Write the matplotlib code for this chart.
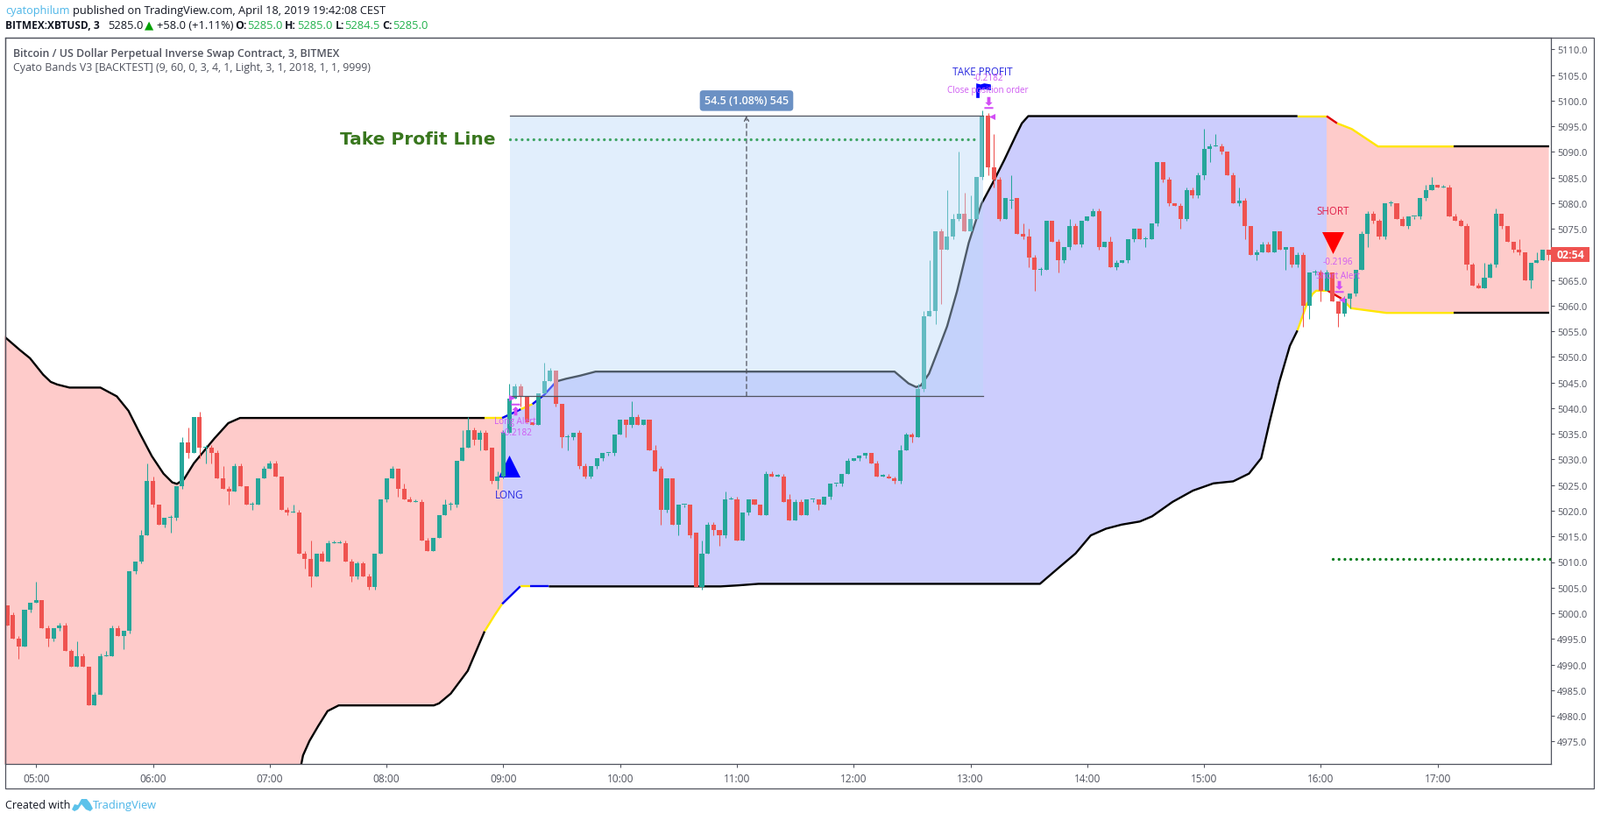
import numpy as np
import matplotlib
matplotlib.use("Agg")
import matplotlib.pyplot as plt
from matplotlib.patches import Rectangle, Polygon
from matplotlib.path import Path
from matplotlib.ticker import FixedLocator

FONT = "Open Sans"
W, H = 1826, 937

# ---- candles: bar index -5 .. 259 (20 bars per hour, index 0 = 05:00)
FIRST_BAR = -5
OPEN = [
 5002,5000,4995.5,4994,5001,5002.5,5003,4997.5,4995.5,4997.5,
 4998,4993,4990,4992,4990,4982.5,4984.5,4992,4992,4997.5,
 4996,4997,5008.5,5010.5,5015.5,5026,5021.5,5017.5,5019,5019,
 5025,5033.5,5031.5,5038.5,5032.5,5032.5,5031.5,5026.5,5024.5,5024,
 5029,5025,5021.5,5021.5,5026.5,5028.5,5029.5,5027,5020.5,5020,
 5020,5012,5011,5007.5,5012,5010.5,5014,5014,5014,5010.5,
 5007.5,5010,5007.5,5005.5,5012,5022.5,5026.5,5028.5,5024.5,5022.5,
 5022,5022,5014.5,5012.5,5015,5019.5,5021.5,5021.5,5030,5032.5,
 5036,5034,5035.5,5032.5,5026,5027,5035.5,5042,5044.5,5042.5,
 5037.5,5037,5043,5045.5,5047.5,5041,5034.5,5034.5,5035.5,5029,
 5027,5029,5030.5,5031.5,5031.5,5035,5038,5037,5038.5,5037,
 5038,5032,5028.5,5020.5,5026.5,5017.5,5021.5,5021.5,5016,5005.5,
 5012,5017.5,5016.5,5015.5,5022.5,5022.5,5014.5,5020,5022.5,5021.5,
 5019.5,5027.5,5027,5027,5022.5,5018.5,5022,5019.5,5022.5,5022.5,
 5021.5,5023,5025.5,5025.5,5027.5,5030,5030.5,5031,5031.5,5029.5,
 5027,5027,5026.5,5026,5032,5035,5034.5,5044,5058,5059,
 5074.5,5071,5073.5,5077,5078,5074.5,5077,5085,5097,5087,
 5084.5,5077,5080.5,5081,5074,5073.5,5069.5,5067,5067,5076.5,
 5072.5,5069,5071.5,5075.5,5072,5076.5,5077.5,5078.5,5071.5,5072.5,
 5067.5,5068.5,5069,5073,5075,5073,5073,5076,5088,5084.5,
 5080,5079.5,5077,5082.5,5081.5,5085.5,5090.5,5091,5091,5090,
 5085.5,5080,5080.5,5075.5,5070,5070.5,5072,5070.5,5074.5,5071,
 5071.5,5068,5070,5060,5066.5,5066.5,5063,5066.5,5061,5058.5,
 5061.5,5062.5,5067,5074,5078,5076.5,5073.5,5080,5080,5077,
 5075.5,5077.5,5077.5,5081,5082.5,5083.5,5083,5083,5077.5,5076.5,
 5075.5,5068,5064,5063.5,5065.5,5068,5078,5075.5,5072.5,5071,
 5070.5,5065,5068.5,5069,5071]
CLOSE = [
 4998,4995.5,4994,5001,5002.5,5003,4997.5,4995.5,4997.5,4998,
 4993,4990,4992,4990,4982.5,4984.5,4992,4992,4997.5,4996,
 4997,5008.5,5010.5,5015.5,5026,5021.5,5017.5,5019,5019,5025,
 5033.5,5031.5,5038.5,5032.5,5032.5,5031.5,5026.5,5024.5,5024,5029,
 5025,5021.5,5021.5,5026.5,5028.5,5029.5,5027,5020.5,5020,5020,
 5012,5011,5007.5,5012,5010.5,5014,5014,5014,5010.5,5007.5,
 5010,5007.5,5005.5,5012,5022.5,5026.5,5028.5,5024.5,5022.5,5022,
 5022,5014.5,5012.5,5015,5019.5,5021.5,5021.5,5030,5032.5,5036,
 5034,5035.5,5032,5026,5027,5035.5,5042,5044.5,5042.5,5037.5,
 5037,5043,5045.5,5047.5,5041,5034.5,5034.5,5035.5,5029,5027,
 5029,5030.5,5031.5,5031.5,5035,5038,5037,5038.5,5037,5038,
 5032,5028,5020.5,5026.5,5017.5,5021.5,5021.5,5015.5,5005.5,5012,
 5017.5,5016.5,5015.5,5022.5,5022.5,5014.5,5020,5022.5,5021.5,5019.5,
 5027.5,5027,5027,5022,5018.5,5022,5019.5,5022.5,5022.5,5021.5,
 5023,5025.5,5025.5,5027.5,5030,5030.5,5031,5031.5,5029.5,5027,
 5027,5026.5,5026,5032,5035,5034.5,5044,5058,5059,5074.5,
 5071,5073.5,5077,5078,5074.5,5077,5085,5097,5087,5084.5,
 5077,5081,5080.5,5074,5073.5,5069.5,5067,5067,5076.5,5072.5,
 5069,5071.5,5075.5,5072,5076.5,5077.5,5078.5,5071.5,5072.5,5067.5,
 5068.5,5069,5073,5075,5073,5073,5076,5088,5084.5,5080,
 5079.5,5077,5082.5,5081.5,5085.5,5090.5,5091,5091,5090,5085.5,
 5080,5080.5,5075.5,5070,5070.5,5072,5070.5,5074.5,5071,5071.5,
 5068,5070,5060,5066.5,5066.5,5063,5066.5,5061,5058.5,5061.5,
 5062.5,5067,5074,5078,5076.5,5073.5,5080,5080,5077,5075.5,
 5077.5,5077.5,5081,5082.5,5083.5,5083,5083,5077.5,5076.5,5075.5,
 5068,5064,5063.5,5065.5,5068,5078,5075.5,5072.5,5071,5070.5,
 5065,5068.5,5069,5071,5070]
HIGH = [
 5002,5000.5,4996,5001,5002.5,5006.5,5003,4998,4997.5,4998.5,
 4998.5,4993.5,4995,4992.5,4990,4985,4992.5,4993,4998,4998,
 4997,5008.5,5010.5,5016.5,5029.5,5027,5021.5,5019,5019.5,5025,
 5034.5,5036.5,5038.5,5039.5,5033,5033,5032,5029,5025,5029.5,
 5029.5,5025,5022,5026.5,5029,5030,5030,5027,5021,5021.5,
 5020.5,5012.5,5014.5,5012,5012.5,5014.5,5014.5,5014.5,5014.5,5011,
 5010.5,5010.5,5008,5012,5022.5,5026.5,5029,5028.5,5025.5,5023,
 5022.5,5022.5,5015,5015,5019.5,5022.5,5022,5030,5036,5038.5,
 5036.5,5036,5036,5032.5,5028,5036,5045,5045,5045,5042.5,
 5037.5,5043,5049,5048,5047.5,5041,5035,5035.5,5036,5029.5,
 5029,5030.5,5031.5,5031.5,5035,5038,5038,5041.5,5039,5038,
 5038,5033,5029,5026.5,5026.5,5021.5,5021.5,5021.5,5016,5014.5,
 5018,5018,5016.5,5024,5023,5023,5020,5022.5,5022.5,5021.5,
 5028,5028,5027.5,5027.5,5023.5,5022.5,5022.5,5022.5,5022.5,5022.5,
 5023,5025.5,5025.5,5027.5,5030.5,5030.5,5031,5031.5,5031.5,5030,
 5027.5,5027.5,5027,5033,5035.5,5035.5,5045,5059,5069,5074.5,
 5075,5082.5,5078,5090,5082,5081.5,5085,5098,5097.5,5093.5,
 5085,5081,5085.5,5081,5076,5075,5070,5067.5,5076.5,5076.5,
 5073,5071.5,5077,5076,5076.5,5077.5,5079,5079,5072.5,5073.5,
 5069,5069,5073,5075,5075,5073.5,5076,5088,5088,5085,
 5080,5080,5083,5083,5086,5094.5,5091.5,5093.5,5091.5,5090,
 5086,5083,5081,5075.5,5071,5072.5,5072.5,5074.5,5074.5,5071.5,
 5071.5,5070.5,5070.5,5066.5,5067,5067,5067,5066.5,5061,5062,
 5062.5,5067,5074.5,5078.5,5078.5,5077,5080,5080.5,5080,5077.5,
 5077.5,5077.5,5081,5083.5,5085,5083.5,5083.5,5083.5,5078,5077,
 5076,5068.5,5064.5,5068.5,5068.5,5079,5078,5075.5,5072.5,5073,
 5070.5,5068.5,5070.5,5071,5071]
LOW = [
 4998,4995.5,4991.5,4994,5000.5,5002.5,4997.5,4994,4995,4997,
 4993,4990,4990,4990,4982.5,4982.5,4984.5,4992,4992,4996,
 4993.5,4996.5,5008,5010,5015.5,5021,5017.5,5017,5016,5018.5,
 5024.5,5030.5,5031.5,5030.5,5029.5,5029.5,5026.5,5024.5,5021.5,5024,
 5025,5021.5,5020.5,5021.5,5026.5,5028.5,5027,5020.5,5019.5,5020,
 5012,5009,5005.5,5007.5,5010.5,5010.5,5014,5014,5010.5,5006.5,
 5007,5007.5,5005,5005,5012,5022,5026.5,5023,5022.5,5022,
 5022,5014.5,5012.5,5012.5,5015,5019.5,5020.5,5021,5030,5032.5,
 5033,5032,5032,5025.5,5024.5,5026.5,5035.5,5042,5040.5,5037.5,
 5037,5037,5043,5045.5,5040.5,5032.5,5032,5034,5028.5,5026.5,
 5026.5,5028.5,5030,5031,5031,5035,5034.5,5036.5,5037,5037,
 5032,5028,5017.5,5020,5017.5,5015.5,5021,5015,5005.5,5005,
 5012,5015.5,5013.5,5015,5022.5,5014.5,5014.5,5019.5,5021.5,5019.5,
 5019.5,5027,5027,5022,5018.5,5018.5,5019.5,5019.5,5022,5020.5,
 5021.5,5022.5,5025,5025,5027.5,5030,5030,5030.5,5029.5,5027,
 5027,5026.5,5025.5,5025.5,5032,5033.5,5034.5,5043.5,5058,5056.5,
 5060.5,5071,5073,5076.5,5074.5,5074.5,5077,5084.5,5085.5,5083,
 5076.5,5077,5079,5074,5073,5067.5,5063,5066,5067,5072.5,
 5066.5,5068.5,5071,5072,5071.5,5076.5,5077.5,5071,5071.5,5067.5,
 5067,5068.5,5068.5,5072.5,5073,5071.5,5073,5075.5,5084,5079.5,
 5079.5,5075,5076.5,5081,5081,5084.5,5088,5091,5089.5,5085.5,
 5080,5079.5,5073,5070,5069,5070.5,5070.5,5070.5,5071,5067,
 5067.5,5067.5,5056,5057.5,5066,5061,5063,5061,5056,5058,
 5059.5,5062,5067,5071.5,5076,5073,5073,5079.5,5077,5075.5,
 5075,5077,5077,5080.5,5082.5,5083,5083,5077.5,5076.5,5075.5,
 5067,5064,5063.5,5063.5,5065.5,5067.5,5075,5072.5,5070.5,5070,
 5065,5063.5,5068.5,5069,5069]
assert len(OPEN) == len(CLOSE) == len(HIGH) == len(LOW) == 265

# ---- bands: one (bars, prices, colour) run per line segment
UPPER_RUNS = [
 ([-5.5,-5.25,-2.8,-1.06,1.2,2.5,3.6,5.7,11,13.8,15.8,17.8,19.8,21.8,23.3,24.1,25.3,27,30.5,32.9,34.9,76.8],
  [5054.5,5053.9,5051.5,5049.9,5046.7,5045.3,5044.8,5044.2,5044.2,5042.5,5039.7,5035.2,5030.9,5027.5,5025.8,5025.5,5026.4,5029.5,5034.3,5037.3,5038.3,5038.3], "black"),
 ([76.8,79.8],[5038.3,5038.3],"#ffe600"),
 ([79.8,83],[5038.3,5040],"#0000f0"),
 ([83,85],[5040,5041],"#ffe600"),
 ([85,87,89.1],[5041,5042.8,5045.4],"#0000f0"),
 ([89.1,90.7,93.1,95.8,147,149.4,150.7,151.5,152.9,154.5,156,157.7,159.7,160.9,161.9,163.8,165.8,167.8,168.8,169.9,216],
  [5045.4,5045.9,5046.5,5047.3,5047.3,5045,5044.3,5044.6,5046.9,5051.6,5056.1,5062.9,5072.3,5076.5,5079.9,5083.9,5088.4,5093.2,5095.5,5096.9,5096.9],"black"),
 ([216,221],[5096.9,5096.9],"#ffe600"),
 ([221,222.8],[5096.9,5095.5],"#e00000"),
 ([222.8,225.3,229.8,242.8],[5095.5,5094.4,5091,5091],"#ffe600"),
 ([242.8,259.05],[5091,5091],"black"),
]
LOWER_RUNS = [
 ([-5.5,43,45.4,45.7,46.8,48.3,49.9,51.8,68.1,69,71,73.9,76.8],
  [4958,4964,4971.1,4972.8,4975.6,4978.5,4981.4,4982.5,4982.5,4982.9,4984.8,4989.2,4996.9],"black"),
 ([76.8,78.5,79.8],[4996.9,5000,5002.2],"#ffe600"),
 ([79.8,82.9],[5002.2,5005.6],"#0000f0"),
 ([82.9,84.6],[5005.6,5005.6],"#ffe600"),
 ([84.6,87.8],[5005.6,5005.6],"#0000f0"),
 ([87.8,117.2,120.2,123.7,171.9,175.4,178,180.6,183.2,185.9,189,191.1,194.6,198.1,201.6,205,207.7,209.8,211.2,212.9,214.7,216],
  [5005.6,5005.6,5005.8,5006.1,5006.1,5009.5,5012,5015.5,5016.8,5017.6,5018.2,5019.2,5022,5024.2,5025.6,5026,5027.5,5030.5,5037.4,5045.3,5052.3,5055.3],"black"),
 ([216,217.6,218.6,219.2,221.2],[5055.3,5060.4,5062.4,5063,5063],"#ffe600"),
 ([221.2,223.5],[5063,5061.5],"#e00000"),
 ([223.5,225.2,231.2,242.8],[5061.5,5059.6,5058.7,5058.7],"#ffe600"),
 ([242.8,259.05],[5058.7,5058.7],"black"),
]
ZONE_EDGES = [-5.4, 79.9, 221.0, 259.05]
ZONE_COLORS = ["#fecbca", "#cccdfd", "#fecbca"]

# ---- position box
POS_BARS = [81.1, 162.1]
POS_PRICES = [5042.5, 5097.0]
POS_ARROW_BAR = 121.65
POS_LABEL = "54.5 (1.08%) 545"
POS_LABEL_PRICE = 5099.9

TP_LINE_BARS, TP_LINE_PRICE = [81.2, 161.0], 5092.4
SL_LINE_BARS, SL_LINE_PRICE = [222.0, 259.2], 5010.9

TIME_LABELS = ["05:00","06:00","07:00","08:00","09:00","10:00","11:00","12:00","13:00","14:00","15:00","16:00","17:00"]
TIME_BARS = [0,20,40,60,80,100,120,140,160,180,200,220,240]
PRICE_TICKS = [4975,4980,4985,4990,4995,5000,5005,5010,5015,5020,5025,5030,5035,5040,5045,5050,5055,5060,5065,5070,5075,5080,5085,5090,5095,5100,5105,5110]
HIDDEN_PRICE_LABEL = 5070  # covered by the countdown tag

ANNOTATIONS = [
 ("LONG", 81.0, 5023.4, "#2a2ae0", 8.6),
 ("Long Alert", 82.0, 5037.8, "#cf5cf2", 7.2),
 ("+0.2182", 82.2, 5035.5, "#cf5cf2", 7.2),
 ("TAKE PROFIT", 162.0, 5105.5, "#2a2ae0", 8.4),
 ("-0.2182", 163.0, 5104.4, "#cf5cf2", 7.2),
 ("Close position order", 163.0, 5102.0, "#cf5cf2", 7.1),
 ("SHORT", 222.0, 5078.5, "#e0204a", 8.3),
 ("-0.2196", 223.0, 5068.6, "#cf5cf2", 7.2),
 ("Short Alert", 223.0, 5066.0, "#cf5cf2", 7.2),
]
LONG_TRI = (81.0, 5029.0)
SHORT_TRI = (222.0, 5072.3)
FLAG = (162.2, 5102.0)
ALERT_DOWN = [(163.0, 5099.6), (223.1, 5063.8)]
ALERT_UP = [(82.07, 5040.0)]
FILL_LEFT = [(163.6, 5096.9), (223.6, 5061.2)]
FILL_RIGHT = [(81.5, 5042.2)]

UP, DOWN = "#26a69a", "#ef5350"
GREY = "#50535e"


def cal(v):
    """Readings were taken on a 5.88 px/unit ruler; the axis ticks measure 5.852 px/unit."""
    return 5095.065 + (np.asarray(v, dtype=float) - 5095.0) * 1.00478


# ---------------------------------------------------------------------------
fig = plt.figure(figsize=(W / 100, H / 100), dpi=100, facecolor="white")
L, R, T, B = 6, 1770, 44, 873
ax = fig.add_axes([L / W, 1 - B / H, (R - L) / W, (B - T) / H])
ax.set_xlim((L - 41.3) / 6.664, (R - 41.3) / 6.664)
YMIN, YMAX = 5110 - (B - 57.3) / 5.852, 5110 + (57.3 - T) / 5.852
ax.set_ylim(YMIN, YMAX)

# band fill: polygon between the two band outlines, clipped per zone
ux = [x for r in UPPER_RUNS for x in r[0]]
uy = [y for r in UPPER_RUNS for y in r[1]]
lx = [x for r in LOWER_RUNS for x in r[0]]
ly = [y for r in LOWER_RUNS for y in r[1]]
for a, b, col in zip(ZONE_EDGES[:-1], ZONE_EDGES[1:], ZONE_COLORS):
    poly = ax.fill(ux + lx[::-1], cal(uy + ly[::-1]), color=col, lw=0, zorder=1)[0]
    poly.set_clip_path(Rectangle((a, YMIN), b - a, YMAX - YMIN, transform=ax.transData))

for runs in (UPPER_RUNS, LOWER_RUNS):
    for xs, ys, col in runs:
        ax.plot(xs, cal(ys), color=col, lw=1.7, zorder=2, solid_capstyle="butt")

# candles
bars = np.arange(FIRST_BAR, FIRST_BAR + len(OPEN))
o, c, h, l = cal(OPEN), cal(CLOSE), cal(HIGH), cal(LOW)
cols = np.where(c >= o, UP, DOWN)
ax.vlines(bars, l, h, colors=cols, lw=0.75, zorder=3)
ax.bar(bars, np.maximum(np.abs(c - o), 0.18), bottom=np.minimum(o, c), width=0.76,
       color=cols, lw=0, zorder=3.1)

ax.scatter(LONG_TRI[0], cal(LONG_TRI[1]), marker="^", s=324, color="#0000ff", lw=0, zorder=2.5)
ax.scatter(SHORT_TRI[0], cal(SHORT_TRI[1]), marker="v", s=324, color="#ff0000", lw=0, zorder=2.5)

# position overlay
py0, py1 = cal(POS_PRICES)
ax.add_patch(Rectangle((POS_BARS[0], py0), POS_BARS[1] - POS_BARS[0], py1 - py0,
                       facecolor=(186 / 255, 217 / 255, 250 / 255, 0.424), lw=0, zorder=4))
for p in (py0, py1):
    ax.plot(POS_BARS, [p, p], color="#50535e", lw=0.9, zorder=4.5)
ax.annotate("", xy=(POS_ARROW_BAR, py1), xytext=(POS_ARROW_BAR, py0),
            arrowprops=dict(arrowstyle="->", color="#50535e", lw=0.9, linestyle=(0, (4, 3)), shrinkA=0, shrinkB=0,
                            mutation_scale=9), zorder=4.6)
ax.text(POS_ARROW_BAR, cal(POS_LABEL_PRICE), POS_LABEL, ha="center", va="center", color="white", fontsize=9,
        fontweight="semibold", family=FONT, zorder=6,
        bbox=dict(boxstyle="round,pad=0.42,rounding_size=0.3", fc="#6b91c4", ec="none"))

# dotted lines
ax.plot(TP_LINE_BARS, cal([TP_LINE_PRICE] * 2), color="#3fa565", lw=2.4, ls=(0, (0.01, 2.0)),
        dash_capstyle="round", zorder=5)
ax.plot(SL_LINE_BARS, cal([SL_LINE_PRICE] * 2), color="#0a7d1f", lw=2.4, ls=(0, (0.01, 2.0)),
        dash_capstyle="round", zorder=5)

# alert markers
arrow_down = Path([(-.28, 1), (.28, 1), (.28, .1), (.62, .1), (0, -.5), (-.62, .1), (-.28, .1), (-.28, 1),
                   (-.75, -.7), (.75, -.7), (.75, -1), (-.75, -1), (-.75, -.7)],
                  [1, 2, 2, 2, 2, 2, 2, 79, 1, 2, 2, 2, 79])
arrow_up = Path(arrow_down.vertices * np.array([1, -1]), arrow_down.codes)
flag = Path([(-1, -1), (-1, 1), (-.4, .85), (.1, 1), (1, .85), (1, .05), (.1, .2), (-.55, .1),
             (-.55, -1), (-1, -1)])
ARROW = "#d24df5"
for x, y in ALERT_DOWN:
    ax.scatter(x, cal(y), marker=arrow_down, s=95, color=ARROW, lw=0, zorder=6)
for x, y in ALERT_UP:
    ax.scatter(x, cal(y), marker=arrow_up, s=95, color=ARROW, lw=0, zorder=6)
for x, y in FILL_LEFT:
    ax.scatter(x, cal(y), marker="<", s=26, color=ARROW, lw=0, zorder=6)
for x, y in FILL_RIGHT:
    ax.scatter(x, cal(y), marker=">", s=26, color=ARROW, lw=0, zorder=6)
ax.scatter(FLAG[0], cal(FLAG[1]), marker=flag, s=144, color="#0000ff", lw=0, zorder=5.5)

for t, x, y, col, size in ANNOTATIONS:
    ax.text(x, cal(y), t, ha="center", va="center", color=col, fontsize=size, family=FONT, zorder=7)

# axes
for s in ax.spines.values():
    s.set_color(GREY)
    s.set_linewidth(0.9)
ax.yaxis.tick_right()
ax.xaxis.set_major_locator(FixedLocator(TIME_BARS))
ax.set_xticklabels(TIME_LABELS)
ax.yaxis.set_major_locator(FixedLocator(PRICE_TICKS))
ax.set_yticklabels(["" if v == HIDDEN_PRICE_LABEL else f"{v:.1f}" for v in PRICE_TICKS])
ax.tick_params(axis="x", length=2.8, width=0.75, color=GREY, labelcolor="#50535e", labelsize=8.6, pad=4.5)
ax.tick_params(axis="y", length=2.6, width=0.75, color=GREY, labelcolor="#50535e", labelsize=7.9, pad=2.6)
for t in ax.get_xticklabels() + ax.get_yticklabels():
    t.set_family(FONT)

# outer frame
fig.add_artist(Rectangle((6 / W, 1 - 900.7 / H), (1819 - 6) / W, (900.7 - 44) / H, transform=fig.transFigure,
                         fill=False, ec=GREY, lw=0.9, zorder=10))


def ftext(x, y, s, **kw):
    kw.setdefault("family", FONT)
    kw.setdefault("va", "center")
    kw.setdefault("fontsize", 9.3)
    return fig.text(x / W, 1 - y / H, s, **kw)


# countdown tag
fig.add_artist(Rectangle((1770 / W, 1 - 300 / H), 44 / W, 17 / H, transform=fig.transFigure, fc=DOWN, ec="none", zorder=11))
ftext(1792, 291.5, "02:54", color="white", ha="center", fontweight="bold", fontsize=8.8, zorder=12)

BLUE = "#4db6e8"
BLACK = "#131722"
GRN = "#22b14c"
ftext(6, 12.7, "cyatophilum", color=BLUE, fontsize=9.1)
ftext(83.4, 12.7, "published on TradingView.com, April 18, 2019 19:42:08 CEST", color=BLACK, fontsize=9.2)
ftext(6, 29.3, "BITMEX:XBTUSD, 3", color=BLACK, fontweight="bold", fontsize=8.6)
ftext(123, 29.3, "5285.0", color=BLACK)
ftext(170, 29.3, "\u25b2", color="#00a000", family="DejaVu Sans", ha="center", fontsize=9.5)
ftext(179, 29.3, "+58.0 (+1.11%)", color=BLACK)
for x1, lab, x2, val in [(268, "O:", 282, "5285.0"), (325, "H:", 339.5, "5285.0"),
                         (382.7, "L:", 393, "5284.5"), (436, "C:", 448.5, "5285.0")]:
    ftext(x1, 29.3, lab, color=BLACK, fontweight="bold", fontsize=8.8)
    ftext(x2, 29.3, val, color=GRN)
ftext(15.3, 61, "Bitcoin / US Dollar Perpetual Inverse Swap Contract, 3, BITMEX", color="#50535e",
      fontweight="semibold", fontsize=8.9)
ftext(15.3, 78, "Cyato Bands V3 [BACKTEST] (9, 60, 0, 3, 4, 1, Light, 3, 1, 2018, 1, 1, 9999)", color="#50535e",
      fontsize=8.9)
ftext(388, 159.5, "Take Profit Line", color="#38761d", fontweight="bold", family="DejaVu Sans", fontsize=14.5)
ftext(6, 920, "Created with", color=BLACK, fontsize=9.0)
ftext(106, 920, "TradingView", color=BLUE)
icon = [(82, 925), (85, 919), (89, 920), (93, 913), (99, 913), (103, 918), (106, 924), (103, 927), (98, 925), (93, 919), (89, 925), (85, 927)]
fig.add_artist(Polygon([(x / W, 1 - y / H) for x, y in icon], closed=True, transform=fig.transFigure, fc="#5cc2ea", ec="none"))

fig.savefig("out.png", dpi=100)
